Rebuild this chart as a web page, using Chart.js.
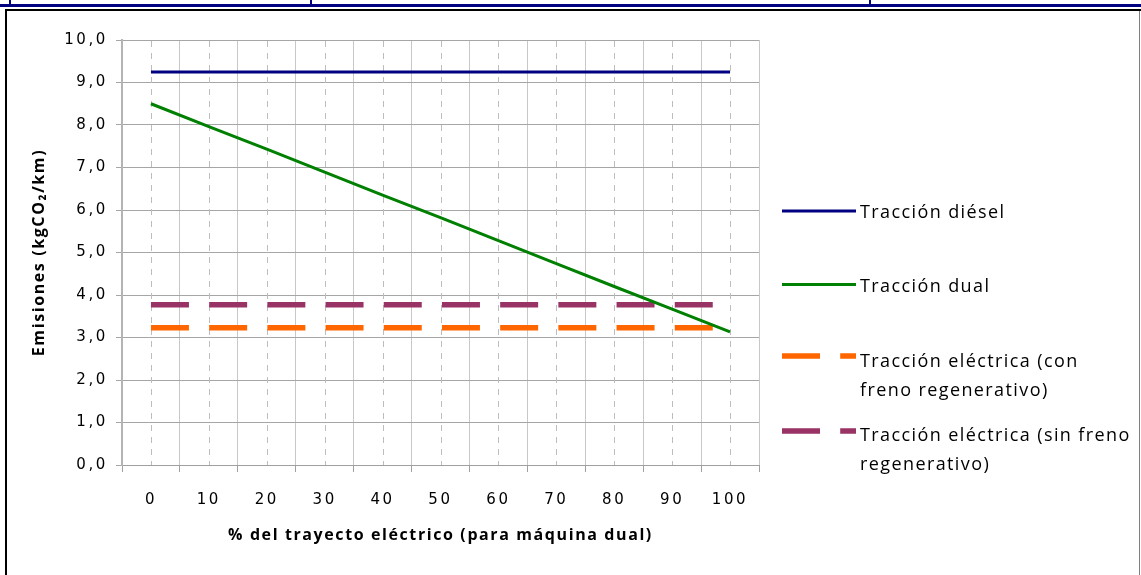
<!DOCTYPE html>
<html>
<head>
<meta charset="utf-8">
<script src="https://cdn.jsdelivr.net/npm/chart.js@4.4.1/dist/chart.umd.min.js"></script>
<style>
html,body{margin:0;padding:0;background:#fff;overflow:hidden}
#wrap{position:relative;width:1141px;height:575px;background:#fff}
canvas{position:absolute;left:0;top:0}
.bl{position:absolute;background:#000080}
</style>
</head>
<body>
<div id="wrap">
<canvas id="c" width="1141" height="575"></canvas>
<div class="bl" style="left:0;top:4px;width:1141px;height:3px"></div>
<div class="bl" style="left:9px;top:0;width:2px;height:5px"></div>
<div class="bl" style="left:310px;top:0;width:2px;height:5px"></div>
<div class="bl" style="left:869px;top:0;width:2px;height:5px"></div>
<div style="position:absolute;left:5px;top:9px;width:1136px;height:2px;background:#000"></div>
<div style="position:absolute;left:5px;top:9px;width:2px;height:566px;background:#000"></div>
<div style="position:absolute;left:1139px;top:11px;width:1px;height:564px;background:#808080"></div>
</div>
<script>
// ---- data ----
const categories = ['0','10','20','30','40','50','60','70','80','90','100'];
const tractionDiesel = [9.25, 9.25, 9.25, 9.25, 9.25, 9.25, 9.25, 9.25, 9.25, 9.25, 9.25];
const tractionDual = [8.50, 7.96, 7.43, 6.89, 6.35, 5.82, 5.28, 4.74, 4.20, 3.67, 3.13];
const electricRegen = [3.23, 3.23, 3.23, 3.23, 3.23, 3.23, 3.23, 3.23, 3.23, 3.23, 3.23];
const electricNoRegen = [3.77, 3.77, 3.77, 3.77, 3.77, 3.77, 3.77, 3.77, 3.77, 3.77, 3.77];
const seriesLabels = [
  ['Tracción diésel'],
  ['Tracción dual'],
  ['Tracción eléctrica (con', 'freno regenerativo)'],
  ['Tracción eléctrica (sin freno', 'regenerativo)']
];
const yTitle = 'Emisiones (kgCO\u2082/km)';
const xTitle = '% del trayecto eléctrico (para máquina dual)';
const yMin = 0, yMax = 10, yStep = 1;

const TICK_LS = '2.6px';
const TITLE_LS = '1.6px';
const LEG_LS = '1.4px';
const FONT = '"Open Sans", "DejaVu Sans", sans-serif';
const TICK_FONT = '"DejaVu Sans", sans-serif';

const centerDashes = {
  id: 'centerDashes',
  beforeUpdate(chart) { chart.ctx.letterSpacing = TICK_LS; },
  beforeDraw(chart) { chart.ctx.letterSpacing = TITLE_LS; },
  beforeDatasetsDraw(chart) {
    const {ctx, chartArea, scales} = chart;
    const xs = scales.x;
    ctx.save();
    ctx.strokeStyle = '#bdbdbd';
    ctx.lineWidth = 1;
    ctx.setLineDash([6, 6]);
    categories.forEach((c, i) => {
      const x = Math.round(xs.getPixelForValue(i)) + 0.5;
      ctx.beginPath();
      ctx.moveTo(x, chartArea.top + 1);
      ctx.lineTo(x, chartArea.bottom);
      ctx.stroke();
    });
    ctx.restore();
  },
  afterDatasetsDraw(chart) { chart.ctx.letterSpacing = TICK_LS; },
  afterDraw(chart) {
    const ctx = chart.ctx;
    const markY = [211, 284.5, 356, 431];
    const baseY = [218, 291.5, 367, 441];
    ctx.save();
    ctx.letterSpacing = LEG_LS;
    ctx.font = '18px ' + FONT;
    ctx.fillStyle = '#000';
    ctx.textAlign = 'left';
    ctx.textBaseline = 'alphabetic';
    chart.data.datasets.forEach((ds, i) => {
      ctx.save();
      ctx.strokeStyle = ds.borderColor;
      ctx.lineWidth = ds.borderWidth;
      ctx.setLineDash(ds.borderDash || []);
      ctx.lineCap = 'butt';
      ctx.beginPath();
      ctx.moveTo(782, markY[i]);
      ctx.lineTo(856, markY[i]);
      ctx.stroke();
      ctx.restore();
      seriesLabels[i].forEach((t, k) => ctx.fillText(t, 860, baseY[i] + k * 28.5));
    });
    ctx.restore();
  }
};

Chart.defaults.color = '#000';
Chart.defaults.font.family = FONT;

new Chart(document.getElementById('c'), {
  type: 'line',
  data: {
    labels: categories,
    datasets: [
      {label: seriesLabels[0].join(' '), data: tractionDiesel, borderColor: '#000080', backgroundColor: '#000080', borderWidth: 3, pointRadius: 0, fill: false, tension: 0},
      {label: seriesLabels[1].join(' '), data: tractionDual, borderColor: '#008000', backgroundColor: '#008000', borderWidth: 3, pointRadius: 0, fill: false, tension: 0},
      {label: seriesLabels[2].join(' '), data: electricRegen, borderColor: '#FF6600', backgroundColor: '#FF6600', borderWidth: 5.5, borderDash: [38, 20.2], borderCapStyle: 'butt', pointRadius: 0, fill: false},
      {label: seriesLabels[3].join(' '), data: electricNoRegen, borderColor: '#993366', backgroundColor: '#993366', borderWidth: 5.5, borderDash: [38, 20.2], borderCapStyle: 'butt', pointRadius: 0, fill: false}
    ]
  },
  options: {
    responsive: false,
    animation: false,
    devicePixelRatio: 1,
    layout: {padding: {left: 5, top: 40, right: 382, bottom: 0}},
    plugins: {legend: {display: false}, tooltip: {enabled: false}},
    scales: {
      x: {
        offset: true,
        grid: {offset: true, color: '#c8c8c8', lineWidth: 1, tickLength: 7, tickColor: '#a0a0a0'},
        border: {color: '#a0a0a0', width: 1},
        ticks: {autoSkip: false, maxRotation: 0, minRotation: 0, padding: 19, font: {size: 15, family: TICK_FONT}, z: 1},
        title: {display: true, text: xTitle, font: {size: 16, weight: 'bold'}, padding: {top: 0, bottom: 30}},
        afterFit(s) { s.height = 110; }
      },
      y: {
        min: yMin, max: yMax,
        ticks: {stepSize: yStep, padding: 8, font: {size: 15, family: TICK_FONT}, z: 1,
          callback: v => v.toFixed(1).replace('.', ',')},
        grid: {color: '#a6a6a6', lineWidth: 1, tickLength: 6},
        border: {color: '#b4b4b4', width: 2},
        title: {display: true, text: yTitle, font: {size: 16, weight: 'bold'}, padding: {top: 25, bottom: 0}},
        afterFit(s) { s.width = 117; }
      }
    }
  },
  plugins: [centerDashes]
});
</script>
</body>
</html>
